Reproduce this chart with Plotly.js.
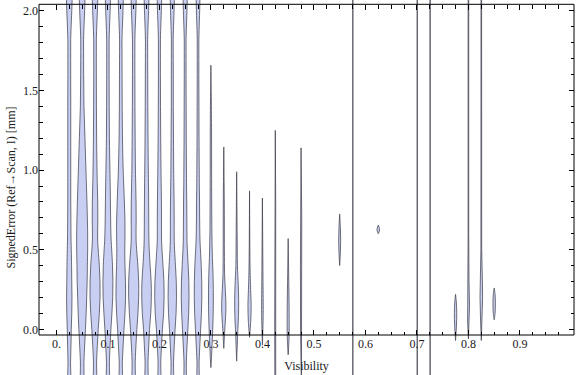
<!DOCTYPE html>
<html><head><meta charset="utf-8">
<script src="https://cdn.plot.ly/plotly-3.0.1.min.js"></script>
<style>html,body{margin:0;padding:0;background:#fff}#chart{width:576px;height:375px}</style>
</head><body><div id="chart"></div>
<script>
// Visibility bins (violin centres)
const visibility = [0.025,0.05,0.075,0.1,0.125,0.15,0.175,0.2,0.225,0.25,0.275,
  0.3,0.325,0.35,0.375,0.4,0.425,0.45,0.475,0.55,0.575,0.625,0.7,0.725,0.775,0.8,0.825,0.85];

// Signed error levels where the smoothed density was read
const gridY = [-0.4,-0.2,-0.1,0,0.1,0.2,0.3,0.4,0.5,0.55,0.6,0.7,0.8,0.9,1.0,1.2,1.4,1.6,1.8,2.2];
const errorKnots = [
  gridY,gridY,gridY,gridY,gridY,gridY,gridY,gridY,gridY,gridY,gridY,
  [-0.24,-0.15,-0.05,0.05,0.15,0.25,0.35,0.45,0.6,0.8,1.0,1.3,1.66],
  [-0.12,-0.05,0.03,0.1,0.17,0.25,0.35,0.5,0.8,1.146],
  [-0.2,-0.1,0,0.08,0.18,0.28,0.4,0.6,0.99],
  [-0.05,0.05,0.15,0.25,0.4,0.87],
  [-0.1,0.1,0.3,0.825],
  [-0.4,0,0.3,0.8,1.25],
  [-0.16,-0.05,0.1,0.3,0.57],
  [-0.4,0,0.4,0.7,1.14],
  [0.40,0.48,0.56,0.64,0.725],
  [-0.4,2.2],
  [0.6,0.625,0.655],
  [-0.4,2.2],
  [-0.4,2.2],
  [-0.07,0.02,0.1,0.17,0.22],
  [-0.06,0.05,0.15,0.3,0.6,2.2],
  [-0.07,0.05,0.2,0.3,0.5,2.2],
  [0.06,0.1,0.16,0.22,0.26]
];
// Smoothed density (relative) at each level
const densities = [
  [0.8,1.3,1.7,2,2.5,2.7,2.5,2.3,2,1.8,1.7,1.6,1.5,1.5,1.5,1.5,1.5,1.4,1.4,1.3],
  [0.8,1.8,2.5,3.3,4,4.5,5,5.2,5.5,5.5,5.5,5.2,4.8,4.3,3.8,2.8,1.8,1.5,1.4,1.3],
  [0.8,1.6,2.3,3.2,4.3,5,5,4.3,3.2,2.7,2.6,2.8,2.7,2.3,2,1.6,1.4,1.3,1.3,1.2],
  [0.8,1.5,2.2,3,4,4.8,5,4.6,3.8,3.3,3,2.7,2.5,2.3,2,1.5,1.3,1.2,1.2,1.1],
  [0.8,1.6,2.4,3.2,4.2,4.8,4.7,4.2,4,4.1,4.2,4.1,3.6,3,2.4,1.7,1.4,1.3,1.2,1.1],
  [0.8,1.6,2.3,3.2,4.3,5,5,4.2,3,2.5,2.4,2.5,2.4,2.1,1.8,1.5,1.3,1.2,1.2,1.1],
  [0.8,1.5,2.2,3,4.2,4.8,4.6,3.6,2.7,2.4,2.3,2.2,2.1,2,1.8,1.5,1.3,1.2,1.1,1],
  [0.7,1.4,2.1,3,4.2,4.7,4.5,3.6,2.6,2.2,2.1,2.1,2,1.8,1.6,1.3,1.1,1,1,0.9],
  [0.6,1.3,2,2.8,3.8,4.2,4,3.2,2.3,2,1.9,1.9,1.8,1.6,1.4,1.2,1,1,0.9,0.8],
  [0.5,1.2,1.9,2.7,3.5,3.9,3.7,3,2.2,1.9,1.8,1.7,1.6,1.4,1.3,1.1,1,0.9,0.9,0.8],
  [0.5,1.1,1.8,2.6,3.4,3.8,3.7,3.2,2.4,2,1.8,1.6,1.5,1.3,1.2,1,0.9,0.8,0.8,0.7],
  [0,0.8,1.5,2.1,2.4,2.4,2.1,1.5,1.0,0.8,0.7,0.6,0],
  [0,0.6,1.3,2,2.1,1.5,0.8,0.6,0.5,0],
  [0,0.6,1.2,1.8,2,1.6,0.8,0.5,0],
  [0,1.2,1.6,1.1,0.5,0],
  [0,0.8,0.6,0],
  [0.4,0.6,0.6,0.4,0],
  [0,0.9,1,0.6,0],
  [0.4,0.5,0.6,0.7,0],
  [0,0.7,1.0,0.7,0],
  [0.3,0.3],
  [0,1.3,0],
  [0.3,0.3],
  [0.3,0.3],
  [0,0.9,1.2,0.8,0],
  [0,0.8,1.1,0.6,0.3,0.3],
  [0,0.7,1.3,1.1,0.4,0.3],
  [0,0.9,1.2,0.9,0]
];

// Axis ticks
const xMajor = [0,0.1,0.2,0.3,0.4,0.5,0.6,0.7,0.8,0.9];
const xMajorText = ['0.','0.1','0.2','0.3','0.4','0.5','0.6','0.7','0.8','0.9'];
const yMajor = [0,0.5,1,1.5,2];
const yMajorText = ['0.0','0.5','1.0','1.5','2.0'];

const xMinor = [];
for (let k = 1; k < 40; k++) { if (k % 4 !== 0) xMinor.push(+(k*0.025).toFixed(3)); }
const yMinor = [];
for (let k = 1; k < 20; k++) { if (k % 5 !== 0) yMinor.push(+(k*0.1).toFixed(1)); }

const widthScale = 1/515;
const fillColor = 'rgb(200,207,242)';
const edgeColor = 'rgba(55,55,68,0.78)';

const traces = visibility.map((v, i) => {
  const ys = errorKnots[i], ds = densities[i];
  const x = [], y = [];
  for (let j = 0; j < ys.length; j++) { x.push(v + ds[j]*widthScale); y.push(ys[j]); }
  for (let j = ys.length - 1; j >= 0; j--) { x.push(v - ds[j]*widthScale); y.push(ys[j]); }
  x.push(x[0]); y.push(y[0]);
  const closedTips = ds[0] === 0 && ds[ds.length-1] === 0;
  const smooth = ys === gridY || closedTips;
  return {type:'scatter', mode:'lines', x, y, fill:'toself', fillcolor:fillColor,
    line:{color:edgeColor, width:0.9, shape: smooth ? 'spline' : 'linear', smoothing:1},
    hoverinfo:'skip', showlegend:false};
});
traces.push({type:'scatter', x:[], y:[], xaxis:'x2', yaxis:'y2', showlegend:false, hoverinfo:'skip'});

const W = 576, H = 375;
const frameTop = 4.3, frameBottom = 335;
const xRange = [-0.0338, 1.005];
const yRange = [-0.287, 2.069];
const tickFont = {family:'Liberation Serif, Times New Roman, serif', size:12, color:'#1a1a1a'};

const common = {ticks:'inside', ticklen:5, tickwidth:1, tickcolor:'#000', showgrid:false, zeroline:false, showline:false};

const layout = {
  width:W, height:H, margin:{l:39, r:2, t:0, b:0, pad:0},
  paper_bgcolor:'#fff', plot_bgcolor:'rgba(0,0,0,0)', showlegend:false,
  xaxis:Object.assign({}, common, {range:xRange, anchor:'free', position:(H-frameBottom)/H,
    tickmode:'array', tickvals:xMajor, ticktext:xMajorText, tickfont:tickFont,
    minor:{tickmode:'array', tickvals:xMinor, ticks:'inside', ticklen:3.5, tickcolor:'#000', showgrid:false},
    automargin:false,
    title:{text:'Visibility', font:tickFont, standoff:11}}),
  xaxis2:Object.assign({}, common, {range:xRange, overlaying:'x', side:'top', anchor:'free', position:(H-frameTop)/H,
    tickmode:'array', tickvals:xMajor, showticklabels:false,
    minor:{tickmode:'array', tickvals:xMinor, ticks:'inside', ticklen:3.5, tickcolor:'#000', showgrid:false}}),
  yaxis:Object.assign({}, common, {range:yRange, anchor:'x',
    tickmode:'array', tickvals:yMajor, ticktext:yMajorText, tickfont:tickFont,
    minor:{tickmode:'array', tickvals:yMinor, ticks:'inside', ticklen:3.5, tickcolor:'#000', showgrid:false},
    automargin:false,
    title:{text:'SignedError (Ref\u2192Scan, I) [mm]', font:tickFont, standoff:4}}),
  yaxis2:Object.assign({}, common, {range:yRange, overlaying:'y', side:'right', anchor:'x',
    tickmode:'array', tickvals:yMajor, showticklabels:false,
    minor:{tickmode:'array', tickvals:yMinor, ticks:'inside', ticklen:3.5, tickcolor:'#000', showgrid:false}}),
  shapes:[{type:'rect', xref:'paper', yref:'paper', x0:0, x1:1,
    y0:(H-frameBottom)/H, y1:(H-frameTop)/H, line:{color:'#000', width:1}, layer:'above'}]
};

Plotly.newPlot('chart', traces, layout, {staticPlot:true, displayModeBar:false});
</script></body></html>
